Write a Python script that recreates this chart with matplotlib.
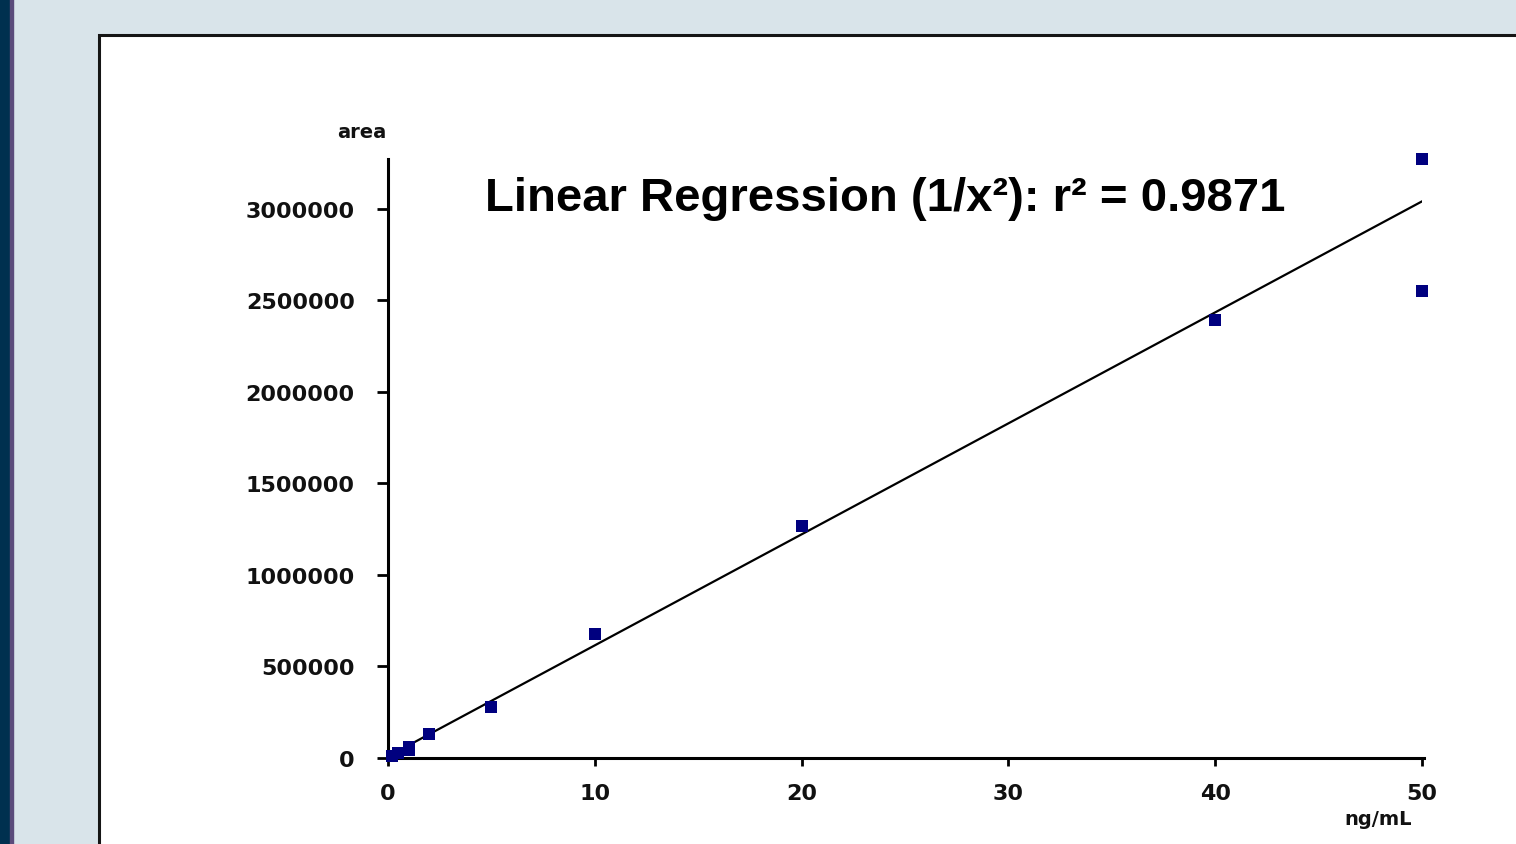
import matplotlib
matplotlib.use("Agg")
import matplotlib.pyplot as plt
from matplotlib.patches import Rectangle

# Data
conc = [0.2, 0.5, 1, 1, 2, 5, 10, 20, 40, 50, 50]
area = [12000, 28000, 45000, 60000, 131000, 279000, 678000, 1268000, 2393000, 3273000, 2552000]
fit_intercept = 9000
fit_slope = 60650
x_ticks = [0, 10, 20, 30, 40, 50]
y_ticks = [0, 500000, 1000000, 1500000, 2000000, 2500000, 3000000]
title = "Linear Regression (1/x²): r² = 0.9871"

W, H = 1516, 845
fig = plt.figure(figsize=(W / 100, H / 100), dpi=100)
fig.patch.set_facecolor("#d9e4ea")

# left dark strip + purple line
fig.add_artist(Rectangle((0, 0), 10 / W, 1, transform=fig.transFigure, color="#00304f", zorder=0))
fig.add_artist(Rectangle((10 / W, 0), 2.5 / W, 1, transform=fig.transFigure, color="#5b4b7b", zorder=0))
# white panel with dark border
fig.add_artist(Rectangle((99 / W, -0.01), (W - 99 + 20) / W, (H - 36) / H + 0.01,
                         transform=fig.transFigure, facecolor="white", edgecolor="#151515",
                         linewidth=2.2, zorder=0))

ax_left, ax_right = 388, 1422
ax_bottom, ax_top = 759, 160
ax = fig.add_axes([ax_left / W, (H - ax_bottom) / H, (ax_right - ax_left) / W, (ax_bottom - ax_top) / H])
ax.set_facecolor("none")
ymax = 3273000
ax.set_xlim(0, 50)
ax.set_ylim(0, ymax)

# regression line
xs = [0, 50]
ys = [fit_intercept + fit_slope * x for x in xs]
ax.plot(xs, ys, color="black", linewidth=1.6, zorder=2)

# data points
ax.plot(conc, area, linestyle="none", marker="s", markersize=8.5, color="#00007f",
        markeredgewidth=0, clip_on=False, zorder=3)

for s in ["top", "right"]:
    ax.spines[s].set_visible(False)
for s in ["left", "bottom"]:
    ax.spines[s].set_linewidth(2.2)
ax.spines["bottom"].set_bounds(0, 50.1)

ax.set_xticks(x_ticks)
ax.set_yticks(y_ticks)
ax.set_xticklabels([str(v) for v in x_ticks])
ax.set_yticklabels([str(v) for v in y_ticks])
ax.tick_params(axis="y", direction="out", length=8, width=2, pad=16,
               labelsize=16, labelcolor="#111111")
ax.tick_params(axis="x", direction="out", length=6, width=2, pad=12,
               labelsize=16, labelcolor="#111111")
for lab in ax.get_xticklabels() + ax.get_yticklabels():
    lab.set_fontfamily("DejaVu Sans")
    lab.set_fontweight("bold")

fig.text(386 / W, 1 - 133 / H, "area", ha="right", va="center", fontsize=14,
         fontweight="bold", family="DejaVu Sans", color="#111111")
fig.text(1412 / W, 1 - 820 / H, "ng/mL", ha="right", va="center", fontsize=14,
         fontweight="bold", family="DejaVu Sans", color="#111111")

fig.text(485 / W, 1 - 211 / H, title, ha="left", va="baseline", fontsize=34,
         fontweight="bold", family="Liberation Sans", color="black")

fig.savefig("out.png", dpi=100, facecolor=fig.get_facecolor())
